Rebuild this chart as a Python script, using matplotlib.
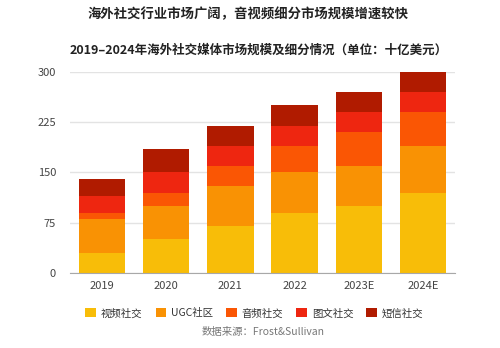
import matplotlib
matplotlib.use("Agg")
import matplotlib.pyplot as plt
import numpy as np

plt.rcParams['font.family'] = ['Noto Sans CJK SC', 'DejaVu Sans']

years = ["2019", "2020", "2021", "2022", "2023E", "2024E"]
series_names = ["视频社交", "UGC社区", "音频社交", "图文社交", "短信社交"]
video = [30, 50, 70, 90, 100, 120]
ugc = [50, 50, 60, 60, 60, 70]
audio = [10, 20, 30, 40, 50, 50]
tuwen = [25, 30, 30, 30, 30, 30]
sms = [25, 35, 30, 30, 30, 30]
colors = ["#F8BD08", "#F99204", "#FA5604", "#EE2610", "#B01B00"]
yticks = [0, 75, 150, 225, 300]

fig = plt.figure(figsize=(5, 3.48), dpi=100)
ax = fig.add_axes([0.14, 0.2155, 0.77, 0.578])

x = np.arange(len(years))
bottom = np.zeros(len(years))
handles = []
for name, vals, c in zip(series_names, [video, ugc, audio, tuwen, sms], colors):
    b = ax.bar(x, vals, 0.72, bottom=bottom, color=c, label=name, zorder=3)
    handles.append(b)
    bottom += np.array(vals)

ax.set_xlim(-0.5, len(years) - 0.5)
ax.set_ylim(0, 300)
ax.set_yticks(yticks)
ax.set_xticks(x)
ax.set_xticklabels(years)
ax.grid(axis='y', color='#E3E3E3', linewidth=1, zorder=0)
for s in ['top', 'right', 'left']:
    ax.spines[s].set_visible(False)
ax.spines['bottom'].set_color('#A8A8A8')
ax.spines['bottom'].set_zorder(4)
ax.tick_params(axis='both', length=0, labelsize=8, labelcolor='#444444')
ax.tick_params(axis='y', pad=10)
ax.tick_params(axis='x', pad=6)

fig.text(0.495, 0.958, "海外社交行业市场广阔，音视频细分市场规模增速较快",
         ha='center', va='center', fontsize=9.6, fontweight='bold', color='#222222')
fig.text(0.518, 0.856, "2019–2024年海外社交媒体市场规模及细分情况（单位：十亿美元）",
         ha='center', va='center', fontsize=9, fontweight='bold', color='#222222')

fig.legend(handles=handles, labels=series_names, loc='center', ncol=5,
           bbox_to_anchor=(0.509, 0.10), frameon=False, fontsize=7.5,
           handlelength=1.0, handleheight=1.0, handletextpad=0.5,
           columnspacing=1.25, labelcolor='#333333')

fig.text(0.526, 0.046, "数据来源：Frost&Sullivan", ha='center', va='center',
         fontsize=7.5, color='#777777')

fig.savefig("out.png", dpi=100, facecolor='white')
